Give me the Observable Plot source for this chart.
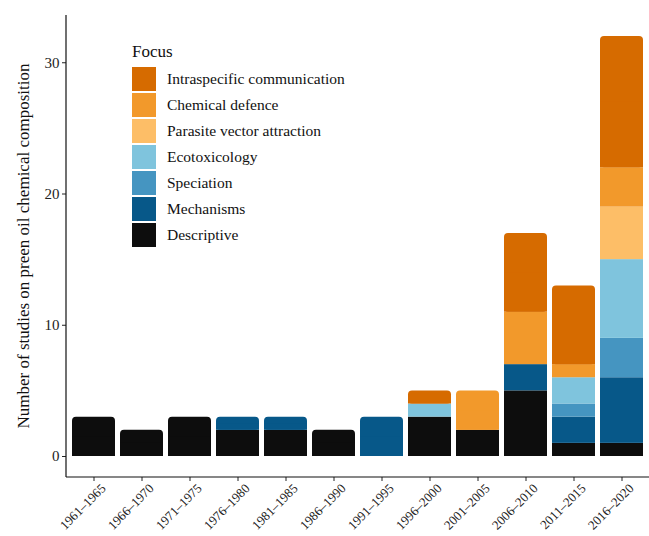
<!DOCTYPE html>
<html>
<head>
<meta charset="utf-8">
<script src="https://cdn.jsdelivr.net/npm/d3@7"></script>
<script src="https://cdn.jsdelivr.net/npm/@observablehq/plot@0.6"></script>
<style>
  html, body { margin: 0; padding: 0; background: #fff; }
  #chart { width: 649px; height: 536px; }
  #chart svg text { font-family: 'Liberation Serif', 'DejaVu Serif', serif; }
</style>
</head>
<body>
<div id="chart"></div>
<script>
const periods = ["1961–1965","1966–1970","1971–1975","1976–1980","1981–1985","1986–1990","1991–1995","1996–2000","2001–2005","2006–2010","2011–2015","2016–2020"];
// stacking order bottom -> top
const focusOrder = ["Descriptive","Mechanisms","Speciation","Ecotoxicology","Parasite vector attraction","Chemical defence","Intraspecific communication"];
const colors = ["#0d0d0d","#075889","#4595c1","#7fc4dd","#fdbe67","#f2992b","#d66b00"];
// counts per period for each focus
const descriptive   = [3,2,3,2,2,2,0,3,2,5,1,1];
const mechanisms    = [0,0,0,1,1,0,3,0,0,2,2,5];
const speciation    = [0,0,0,0,0,0,0,0,0,0,1,3];
const ecotoxicology = [0,0,0,0,0,0,0,1,0,0,2,6];
const parasite      = [0,0,0,0,0,0,0,0,0,0,0,4];
const chemical      = [0,0,0,0,0,0,0,0,3,4,1,3];
const intraspecific = [0,0,0,0,0,0,0,1,0,6,6,10];
const yTicks = [0,10,20,30];

const series = [descriptive, mechanisms, speciation, ecotoxicology, parasite, chemical, intraspecific];

// build stacked segments
const segs = [];
periods.forEach((p, i) => {
  let base = 0;
  let last = null;
  series.forEach((s, k) => {
    const v = s[i];
    if (v > 0) {
      const seg = {period: p, focus: focusOrder[k], y1: base, y2: base + v, top: false};
      segs.push(seg);
      last = seg;
      base += v;
    }
  });
  if (last) last.top = true;
});
const flat = segs.filter(d => !d.top);
const tops = segs.filter(d => d.top);
const topsLower = tops.map(d => ({...d, y2: (d.y1 + d.y2) / 2}));

const colorScale = {domain: focusOrder, range: colors};

const W = 649, H = 536, mL = 66, mT = 15, mB = 59;

const plot = Plot.plot({
  width: W,
  height: H,
  marginLeft: mL,
  marginRight: 0,
  marginTop: mT,
  marginBottom: mB,
  style: {fontFamily: "'Liberation Serif', 'DejaVu Serif', serif", fontSize: "15px", color: "#222", background: "#fff"},
  x: {domain: periods, range: [mL, 650], paddingInner: 0.1, paddingOuter: 0.133, label: null, tickSize: 4, tickFormat: () => ""},
  y: {domain: [-1.6, 33.6], ticks: yTicks, tickSize: 4, tickPadding: 3, label: null},
  color: colorScale,
  marks: [
    Plot.rectY(flat, {x: "period", y1: "y1", y2: "y2", fill: "focus"}),
    Plot.rectY(tops, {x: "period", y1: "y1", y2: "y2", fill: "focus", rx: 4, ry: 4}),
    Plot.rectY(topsLower, {x: "period", y1: "y1", y2: "y2", fill: "focus"}),
    Plot.text(periods, {x: d => d, frameAnchor: "bottom", dx: 6, dy: 5, rotate: -45, textAnchor: "end", lineAnchor: "top", fontSize: 13, fill: "#222"})
  ]
});

const svg = d3.select(plot);
// axis lines (left and bottom)
svg.append("line").attr("x1", mL).attr("x2", mL).attr("y1", mT).attr("y2", H - mB)
  .attr("stroke", "#111").attr("stroke-width", 1.2);
svg.append("line").attr("x1", mL).attr("x2", W).attr("y1", H - mB).attr("y2", H - mB)
  .attr("stroke", "#111").attr("stroke-width", 1.2);

// y axis title
svg.append("text")
  .attr("transform", `translate(29,${(mT + H - mB) / 2}) rotate(-90)`)
  .attr("text-anchor", "middle")
  .attr("font-size", "17px")
  .attr("fill", "#111")
  .text("Number of studies on preen oil chemical composition");

// legend
const lg = svg.append("g").attr("text-anchor", "start");
lg.append("text").attr("x", 132).attr("y", 57).attr("font-size", "17px").attr("fill", "#111").text("Focus");
const legendItems = focusOrder.slice().reverse();
legendItems.forEach((f, i) => {
  const y = 67 + i * 26;
  lg.append("rect").attr("x", 132).attr("y", y).attr("width", 24).attr("height", 24)
    .attr("fill", colors[focusOrder.indexOf(f)]);
  lg.append("text").attr("x", 167).attr("y", y + 12).attr("dy", "0.35em")
    .attr("font-size", "15.5px").attr("fill", "#111").text(f);
});

document.getElementById("chart").appendChild(plot);
</script>
</body>
</html>
